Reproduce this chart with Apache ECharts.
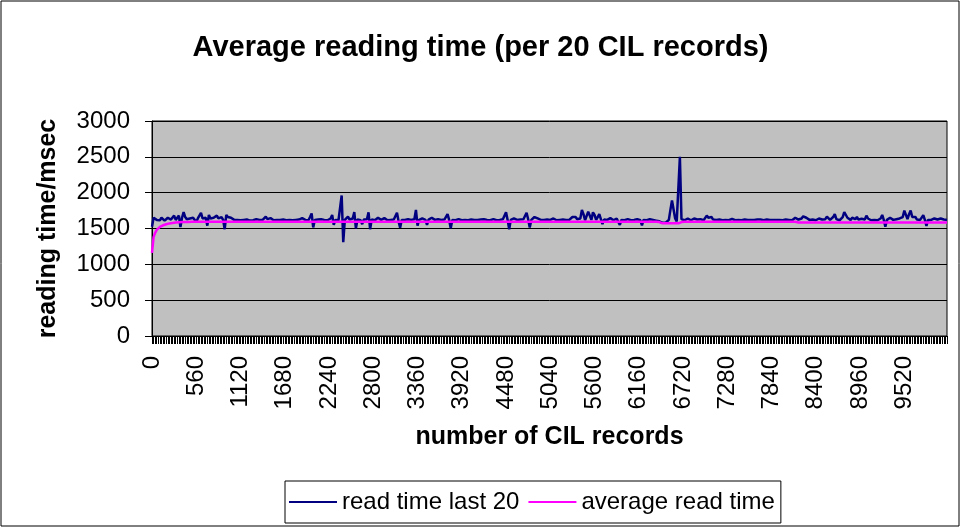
<!DOCTYPE html>
<html>
<head>
<meta charset="utf-8">
<script src="https://cdn.jsdelivr.net/npm/echarts@6/dist/echarts.min.js"></script>
<style>
  html, body { margin: 0; padding: 0; background: #fff; }
  #chart { width: 961px; height: 528px; }
</style>
</head>
<body>
<div id="chart"></div>
<script>
// Records are sampled every 20 CIL records, starting at 0.
const recordStep = 20;

// Reading time of the last 20 records (msec)
const readTimeLast20 = [
  1525,1650,1630,1620,1640,1615,1650,1665,1610,1630,1650,1665,1625,1640,1680,1620,1630,1680,1520,1650,1730,1660,1630,1620,1640,1625,1650,1630,
  1590,1640,1680,1720,1640,1625,1650,1540,1690,1640,1625,1650,1660,1680,1640,1630,1660,1620,1490,1690,1660,1640,1650,1625,1620,1635,1620,1625,
  1615,1630,1620,1615,1625,1620,1610,1620,1615,1620,1630,1615,1620,1610,1620,1640,1665,1630,1620,1645,1620,1615,1625,1620,1610,1620,1615,1625,
  1620,1615,1630,1620,1625,1615,1635,1620,1640,1625,1615,1645,1655,1620,1630,1615,1660,1710,1515,1620,1615,1625,1620,1630,1615,1620,1625,1615,
  1620,1640,1690,1550,1620,1625,1615,1640,1960,1310,1620,1630,1665,1625,1620,1640,1730,1500,1625,1620,1615,1560,1625,1620,1630,1725,1490,1625,
  1620,1615,1630,1650,1625,1620,1630,1645,1620,1615,1625,1620,1615,1625,1640,1720,1600,1510,1620,1625,1620,1640,1630,1645,1620,1615,1630,1760,
  1540,1620,1625,1640,1660,1620,1550,1625,1630,1650,1640,1620,1625,1630,1645,1620,1615,1625,1640,1700,1620,1505,1620,1625,1615,1620,1630,1620,
  1615,1625,1620,1630,1615,1620,1625,1615,1620,1635,1620,1615,1625,1620,1630,1615,1620,1625,1615,1620,1630,1620,1615,1625,1620,1615,1630,1640,
  1725,1620,1490,1620,1625,1640,1630,1620,1615,1625,1620,1630,1640,1720,1630,1515,1620,1640,1660,1635,1640,1625,1620,1635,1620,1615,1625,1620,
  1620,1625,1640,1620,1615,1630,1620,1640,1625,1615,1620,1630,1620,1640,1660,1640,1660,1630,1620,1640,1760,1700,1615,1630,1735,1680,1620,1725,
  1690,1620,1660,1700,1630,1560,1625,1640,1620,1630,1645,1620,1615,1625,1640,1620,1550,1620,1625,1615,1620,1630,1620,1615,1625,1620,1615,1630,
  1620,1615,1545,1620,1625,1615,1620,1630,1615,1620,1625,1610,1620,1600,1585,1580,1585,1580,1590,1620,1760,1890,1890,1640,1600,1620,2500,1630,
  1620,1615,1625,1640,1620,1615,1625,1640,1620,1625,1645,1630,1620,1615,1640,1680,1650,1630,1660,1625,1640,1620,1615,1625,1620,1615,1630,1620,
  1625,1615,1620,1635,1620,1615,1625,1620,1630,1615,1620,1625,1615,1620,1625,1620,1640,1620,1615,1625,1650,1625,1620,1615,1620,1625,1615,1620,
  1625,1620,1635,1620,1640,1620,1635,1615,1620,1625,1615,1620,1625,1615,1630,1650,1665,1625,1620,1640,1670,1690,1650,1630,1620,1615,1625,1620,
  1615,1625,1640,1660,1625,1620,1630,1665,1640,1620,1625,1660,1700,1630,1620,1615,1625,1660,1730,1720,1650,1625,1620,1650,1625,1630,1660,1625,
  1620,1635,1640,1625,1680,1640,1620,1615,1625,1620,1630,1615,1625,1640,1690,1620,1525,1620,1630,1650,1625,1620,1615,1630,1620,1640,1625,1660,
  1750,1690,1630,1700,1750,1660,1640,1660,1625,1650,1620,1630,1685,1620,1535,1620,1630,1620,1615,1640,1620,1625,1615,1640,1620,1625,1615,1620
];

// Running average read time (msec)
const averageReadTime = [
  1160,1380,1440,1480,1505,1522,1535,1545,1553,1560,1566,1571,1575,1578,1581,1583,1585,1587,1588,1589,1590,1591,1591,1592,1592,1593,1593,1593,
  1594,1594,1594,1594,1594,1594,1594,1595,1595,1595,1595,1595,1595,1595,1595,1595,1595,1595,1595,1595,1595,1595,1595,1595,1595,1595,1595,1595,
  1595,1595,1595,1595,1595,1595,1595,1595,1595,1595,1595,1595,1595,1595,1595,1595,1595,1595,1595,1595,1595,1595,1595,1595,1595,1595,1595,1595,
  1595,1595,1595,1595,1595,1595,1595,1595,1595,1595,1595,1595,1595,1595,1595,1595,1595,1595,1595,1595,1595,1595,1595,1595,1595,1595,1595,1595,
  1595,1595,1595,1595,1595,1595,1595,1595,1595,1595,1595,1595,1595,1595,1595,1595,1595,1595,1595,1595,1595,1595,1595,1595,1595,1595,1595,1595,
  1595,1595,1595,1595,1595,1595,1595,1595,1595,1595,1595,1595,1595,1595,1595,1595,1595,1595,1595,1595,1595,1595,1595,1595,1595,1595,1595,1595,
  1595,1595,1595,1595,1595,1595,1595,1595,1595,1595,1595,1595,1595,1595,1595,1595,1595,1595,1595,1595,1595,1595,1595,1595,1595,1595,1595,1595,
  1595,1595,1595,1595,1595,1595,1595,1595,1595,1595,1595,1595,1595,1595,1595,1595,1595,1595,1595,1595,1595,1595,1595,1595,1595,1595,1595,1595,
  1595,1595,1595,1595,1595,1595,1595,1595,1595,1595,1595,1595,1595,1595,1595,1595,1595,1595,1595,1595,1595,1595,1595,1595,1595,1595,1595,1595,
  1595,1595,1595,1595,1595,1595,1595,1595,1595,1595,1595,1595,1595,1595,1595,1595,1595,1595,1595,1595,1595,1595,1595,1595,1595,1595,1595,1595,
  1595,1595,1595,1595,1595,1595,1595,1595,1595,1595,1595,1595,1595,1595,1595,1595,1595,1595,1595,1595,1595,1595,1595,1595,1595,1595,1595,1595,
  1595,1595,1595,1595,1595,1595,1595,1595,1595,1595,1595,1595,1595,1590,1575,1572,1572,1572,1572,1572,1572,1572,1572,1572,1572,1572,1572,1590,
  1594,1595,1595,1595,1595,1595,1595,1595,1595,1595,1595,1595,1595,1595,1595,1595,1595,1595,1595,1595,1595,1595,1595,1595,1595,1595,1595,1595,
  1595,1595,1595,1595,1595,1595,1595,1595,1595,1595,1595,1595,1595,1595,1595,1595,1595,1595,1595,1595,1595,1595,1595,1595,1595,1595,1595,1595,
  1595,1595,1595,1595,1595,1595,1595,1595,1595,1595,1595,1595,1595,1595,1595,1595,1590,1585,1583,1583,1583,1583,1583,1583,1583,1583,1583,1583,
  1583,1583,1583,1583,1583,1583,1583,1583,1583,1583,1583,1583,1583,1583,1583,1583,1583,1583,1583,1583,1583,1583,1583,1583,1583,1583,1583,1583,
  1583,1583,1583,1583,1583,1583,1583,1583,1583,1583,1583,1583,1583,1583,1583,1583,1583,1583,1583,1583,1583,1583,1583,1583,1583,1583,1583,1583,
  1583,1583,1583,1583,1583,1583,1583,1583,1583,1583,1583,1583,1583,1583,1583,1583,1583,1583,1583,1583,1583,1583,1583,1583,1583,1583,1583,1583
];

// Category labels: number of CIL records at each sample
const recordCounts = readTimeLast20.map((_, i) => String(i * recordStep));

const seriesNames = ['read time last 20', 'average read time'];
const yTicks = { min: 0, max: 3000, step: 500 };

const FONT = '"Liberation Sans", Arial, Helvetica, sans-serif';

const chart = echarts.init(document.getElementById('chart'), null, { renderer: 'canvas' });

chart.setOption({
  animation: false,
  backgroundColor: '#ffffff',
  textStyle: { fontFamily: FONT, color: '#000' },
  title: {
    text: 'Average reading time (per 20 CIL records)',
    left: 'center',
    top: 33,
    padding: 0,
    textStyle: { fontFamily: FONT, fontSize: 29, fontWeight: 'bold', color: '#000' }
  },
  graphic: [{
    type: 'rect',
    shape: { x: 1, y: 1, width: 958, height: 525 },
    style: { fill: 'none', stroke: '#000', lineWidth: 1 },
    silent: true,
    z: 100
  }],
  legend: {
    data: seriesNames,
    left: 285,
    top: 481,
    padding: [9, 6, 9, 4],
    itemGap: 9,
    itemWidth: 48,
    itemHeight: 2,
    icon: 'rect',
    borderColor: '#000',
    borderWidth: 1,
    backgroundColor: '#fff',
    textStyle: { fontFamily: FONT, fontSize: 24, color: '#000' }
  },
  grid: {
    left: 152,
    top: 121,
    width: 795,
    height: 215,
    show: true,
    backgroundColor: '#C0C0C0',
    borderColor: '#000',
    borderWidth: 1
  },
  xAxis: {
    type: 'category',
    data: recordCounts,
    boundaryGap: false,
    name: 'number of CIL records',
    nameLocation: 'middle',
    nameGap: 89,
    nameTextStyle: { fontFamily: FONT, fontSize: 25, fontWeight: 'bold', color: '#000' },
    axisLine: { show: true, lineStyle: { color: '#000', width: 1 } },
    axisTick: { show: true, interval: 0, length: 8, lineStyle: { color: '#000', width: 1 } },
    axisLabel: {
      interval: 27,
      rotate: 90,
      margin: 20,
      fontFamily: FONT,
      fontSize: 24,
      color: '#000'
    },
    splitLine: { show: false }
  },
  yAxis: {
    type: 'value',
    min: yTicks.min,
    max: yTicks.max,
    interval: yTicks.step,
    name: 'reading time/msec',
    nameLocation: 'middle',
    nameGap: 91,
    nameTextStyle: { fontFamily: FONT, fontSize: 25, fontWeight: 'bold', color: '#000' },
    axisLine: { show: true, lineStyle: { color: '#000', width: 1 } },
    axisTick: { show: true, length: 7, lineStyle: { color: '#000', width: 1 } },
    axisLabel: {
      margin: 22,
      fontFamily: FONT,
      fontSize: 24,
      color: '#000',
      formatter: (v) => String(v)
    },
    splitLine: { show: true, lineStyle: { color: '#000', width: 1 } }
  },
  series: [
    {
      name: seriesNames[0],
      type: 'line',
      data: readTimeLast20,
      symbol: 'none',
      color: '#000080',
      lineStyle: { color: '#000080', width: 2.5 }
    },
    {
      name: seriesNames[1],
      type: 'line',
      data: averageReadTime,
      symbol: 'none',
      color: '#FF00FF',
      lineStyle: { color: '#FF00FF', width: 2.5 }
    }
  ]
});
</script>
</body>
</html>
